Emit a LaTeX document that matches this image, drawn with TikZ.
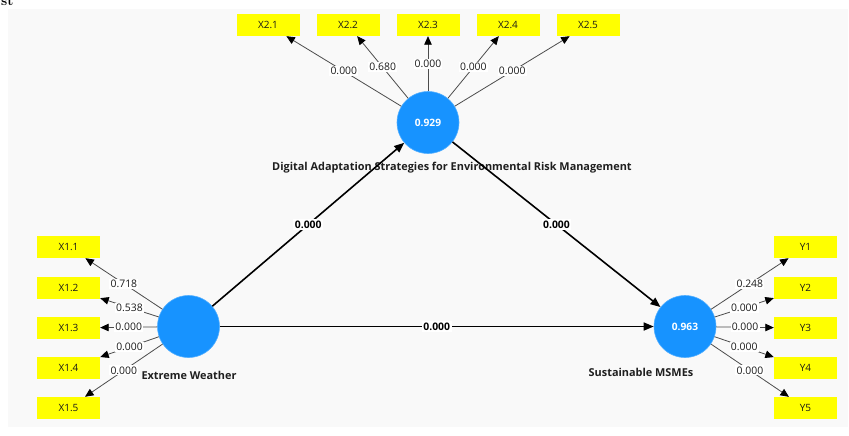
\documentclass[tikz,border=0pt]{standalone}
\usepackage{fontspec}
\newfontfamily\osans{Open Sans}
\usetikzlibrary{arrows.meta}
\definecolor{lvblue}{RGB}{23,147,255}
\definecolor{bggray}{RGB}{249,249,249}
\definecolor{indyellow}{RGB}{255,255,0}
\begin{document}
\begin{tikzpicture}[x=1pt,y=-1pt,
  lv/.style={circle, fill=lvblue, draw=lvblue!75!white, line width=0.6pt, minimum size=62pt, inner sep=0pt, text=white, font=\osans\fontsize{10.2}{12}\selectfont\bfseries},
  ind/.style={fill=indyellow, minimum width=63pt, minimum height=22pt, inner sep=0pt, font=\osans\fontsize{10}{12}\selectfont, text=black!90},
  load/.style={draw=black!70, line width=0.8pt, -{Triangle[length=8.5pt,width=7.5pt,black]}},
  rel/.style={draw=black, line width=1.6pt, -{Triangle[length=10pt,width=8pt]}},
  ll/.style={fill=white, inner sep=1.2pt, font=\osans\fontsize{10.4}{12}\selectfont, text=black!90},
  pl/.style={fill=white, inner sep=1.5pt, font=\osans\fontsize{10.4}{12}\selectfont\bfseries, text=black},
  lvname/.style={font=\osans\fontsize{10.9}{13}\selectfont\bfseries, text=black!88, inner sep=0pt}
]
\useasboundingbox (0,0) rectangle (849,436);
\fill[bggray] (8,9) rectangle (848,427);
\node[anchor=base west, inner sep=0pt, font=\fontsize{14}{16}\selectfont\bfseries] (frag) at (1,6) {st};

% latent variables
\node[lv] (das) at (428,122.5) {0.929};
\node[lv] (ew) at (188.5,326.5) {};
\node[lv] (sm) at (685,326.5) {0.963};

\node[lvname] (dasname) at (452,168) {Digital Adaptation Strategies for Environmental Risk Management};
\node[lvname] (ewname) at (189,375) {Extreme Weather};
\node[lvname] (smname) at (641,372) {Sustainable MSMEs};

% indicators
\node[ind] (x21) at (268,25) {X2.1};
\node[ind] (x22) at (348,25) {X2.2};
\node[ind] (x23) at (428,25) {X2.3};
\node[ind] (x24) at (508,25) {X2.4};
\node[ind] (x25) at (588,25) {X2.5};

\node[ind] (x11) at (68.5,247) {X1.1};
\node[ind] (x12) at (68.5,288) {X1.2};
\node[ind] (x13) at (68.5,328) {X1.3};
\node[ind] (x14) at (68.5,368) {X1.4};
\node[ind] (x15) at (68.5,408) {X1.5};

\node[ind] (y1) at (805.5,247) {Y1};
\node[ind] (y2) at (805.5,288) {Y2};
\node[ind] (y3) at (805.5,328) {Y3};
\node[ind] (y4) at (805.5,368) {Y4};
\node[ind] (y5) at (805.5,408) {Y5};

% loadings
\draw[load] (das) -- node[ll] {0.000} (x21);
\draw[load] (das) -- node[ll] {0.680} (x22);
\draw[load] (das) -- node[ll] {0.000} (x23);
\draw[load] (das) -- node[ll] {0.000} (x24);
\draw[load] (das) -- node[ll] {0.000} (x25);

\draw[load] (ew) -- node[ll] {0.718} (x11);
\draw[load] (ew) -- node[ll] {0.538} (x12);
\draw[load] (ew) -- node[ll] {0.000} (x13);
\draw[load] (ew) -- node[ll] {0.000} (x14);
\draw[load] (ew) -- node[ll] {0.000} (x15);

\draw[load] (sm) -- node[ll] {0.248} (y1);
\draw[load] (sm) -- node[ll] {0.000} (y2);
\draw[load] (sm) -- node[ll] {0.000} (y3);
\draw[load] (sm) -- node[ll] {0.000} (y4);
\draw[load] (sm) -- node[ll] {0.000} (y5);

% structural paths
\draw[rel] (ew) -- node[pl] {0.000} (das);
\draw[rel] (das) -- node[pl] {0.000} (sm);
\draw[rel] (ew) -- node[pl] {0.000} (sm);
\end{tikzpicture}
\end{document}
